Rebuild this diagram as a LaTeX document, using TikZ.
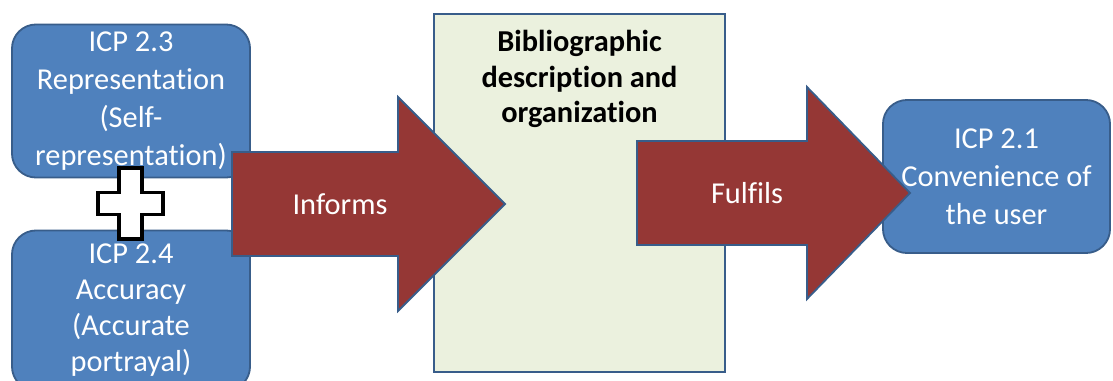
\documentclass[tikz,border=0pt]{standalone}
\usepackage{fontspec}
\setmainfont{Carlito}[Ligatures=NoCommon]
\usepackage{tikz}
\usetikzlibrary{positioning}

\definecolor{boxblue}{HTML}{4F81BD}
\definecolor{edgeblue}{HTML}{385D8A}
\definecolor{arrowred}{HTML}{953735}
\definecolor{paleolive}{HTML}{EBF1DE}

\begin{document}
\begin{tikzpicture}[x=0.025cm, y=-0.025cm, % one unit = one pixel, y downwards
	line join=miter,
	icpbox/.style={draw=edgeblue, fill=boxblue, line width=1.3pt, rounded corners=0.6cm,
		text=white, align=center, minimum width=5.95cm, minimum height=3.825cm,
		font=\fontsize{21.6}{26.9}\selectfont},
	midbox/.style={draw=edgeblue, fill=paleolive, line width=1.3pt,
		minimum width=7.275cm, minimum height=8.95cm},
	desctext/.style={align=center, font=\fontsize{21.6}{25.2}\selectfont\bfseries},
	blockarrow/.style={draw=edgeblue, fill=arrowred, line width=1.3pt},
	arrowtext/.style={text=white, font=\fontsize{21.6}{26.9}\selectfont},
	plussign/.style={draw=black, fill=white, line width=2.2pt}]
	\useasboundingbox[fill=white] (0,0) rectangle (1113,381);

	\node[icpbox] (self) at (131,101) {ICP 2.3\\Representation\\(Self-\\representation)};
	\node[icpbox, minimum height=4cm, font=\fontsize{21.6}{25.6}\selectfont] (accur) at (131,310.5) {ICP 2.4\\Accuracy\\(Accurate\\portrayal)};
	\node[midbox] (desc) at (579.5,193) {};
	\node[desctext] (desclbl) at (579.5,79) {Bibliographic\\description and\\organization};
	\node[icpbox, minimum width=5.675cm] (user) at (996.5,176.5) {ICP 2.1\\Convenience of\\the user};

	\coordinate (plus) at (130.5,203.5);
	\draw[plussign] (plus) ++(-11.5,-35.5) -- ++(23,0) -- ++(0,24.5) -- ++(21,0) -- ++(0,22)
		-- ++(-21,0) -- ++(0,24.5) -- ++(-23,0) -- ++(0,-24.5) -- ++(-21,0) -- ++(0,-22)
		-- ++(21,0) -- cycle;

	\draw[blockarrow] (232,152) -- (398,152) -- (398,97) -- (505,204) -- (398,311)
		-- (398,256) -- (232,256) -- cycle;
	\draw[blockarrow] (637,141) -- (807,141) -- (807,87) -- (910,193) -- (807,299)
		-- (807,245) -- (637,245) -- cycle;
	\node[arrowtext] (informs) at (340,204) {Informs};
	\node[arrowtext] (fulfils) at (747,193) {Fulfils};

\end{tikzpicture}
\end{document}
